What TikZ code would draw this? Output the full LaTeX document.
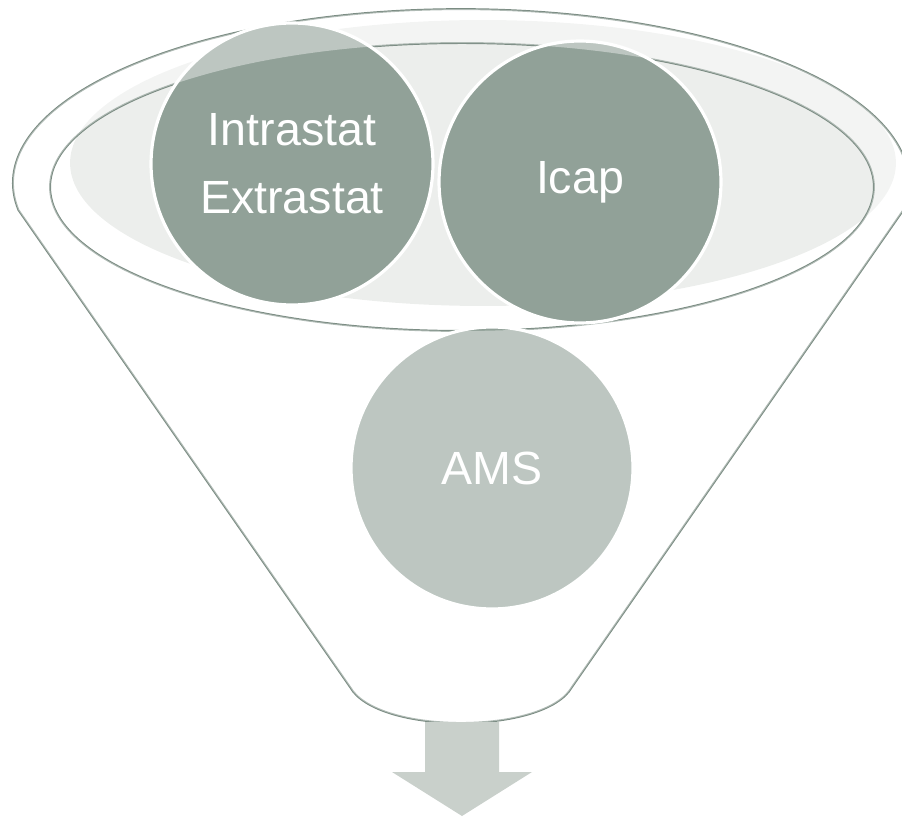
\documentclass[tikz,border=0pt]{standalone}
\usepackage{fontspec}
\setmainfont{Liberation Sans}
\usepackage{xcolor}
\usepackage{tikz}

\definecolor{sage}{HTML}{91A198}
\definecolor{sageline}{HTML}{7B8C83}
\definecolor{sagefill}{HTML}{ECEEEC}
\definecolor{sagearrow}{HTML}{C9D0CB}

\begin{document}
\begin{tikzpicture}[
  x=0.02cm, y=-0.02cm,
  funnelline/.style={draw=sageline, line width=1.1pt},
  bubble/.style={circle, fill=sage, draw=white, line width=1.8pt, minimum size=5.64cm, inner sep=0pt,
    text=white, align=center, font=\fontsize{26.5pt}{38.7pt}\selectfont},
  rim/.style={fill=white, fill opacity=0.4, even odd rule},
  outarrow/.style={fill=sagearrow}
]
\useasboundingbox (0,0) rectangle (902,817);

% Trichterrand: Umriss und Innenoval
\def\funnel{(18.4,210) arc[start angle=188.9, end angle=-8.9, x radius=8.96cm, y radius=3.48cm]
  -- (572,687) .. controls (545,735) and (377,735) .. (350,687) -- cycle}

% Schale im Hintergrund
\fill[sagefill] (483,163) ellipse [x radius=8.26cm, y radius=2.86cm];

\path[funnelline] \funnel;
\draw[funnelline] (462,187) ellipse [x radius=8.24cm, y radius=2.88cm];

% Kreise
\node[bubble] (intra) at (292,164) {Intrastat\\Extrastat};
\node[bubble] (icap) at (580,182) {Icap};
\node[bubble] (ams) at (492,468) {AMS};

% halbtransparenter Trichter ueber den Kreisen
\fill[rim] \funnel (462,187) ellipse [x radius=8.24cm, y radius=2.88cm];

% Pfeil nach unten
\fill[outarrow] (425,722) -- (499,722) -- (499,772) -- (532,772) -- (462,816) -- (392,772) -- (425,772) -- cycle;

\end{tikzpicture}
\end{document}
